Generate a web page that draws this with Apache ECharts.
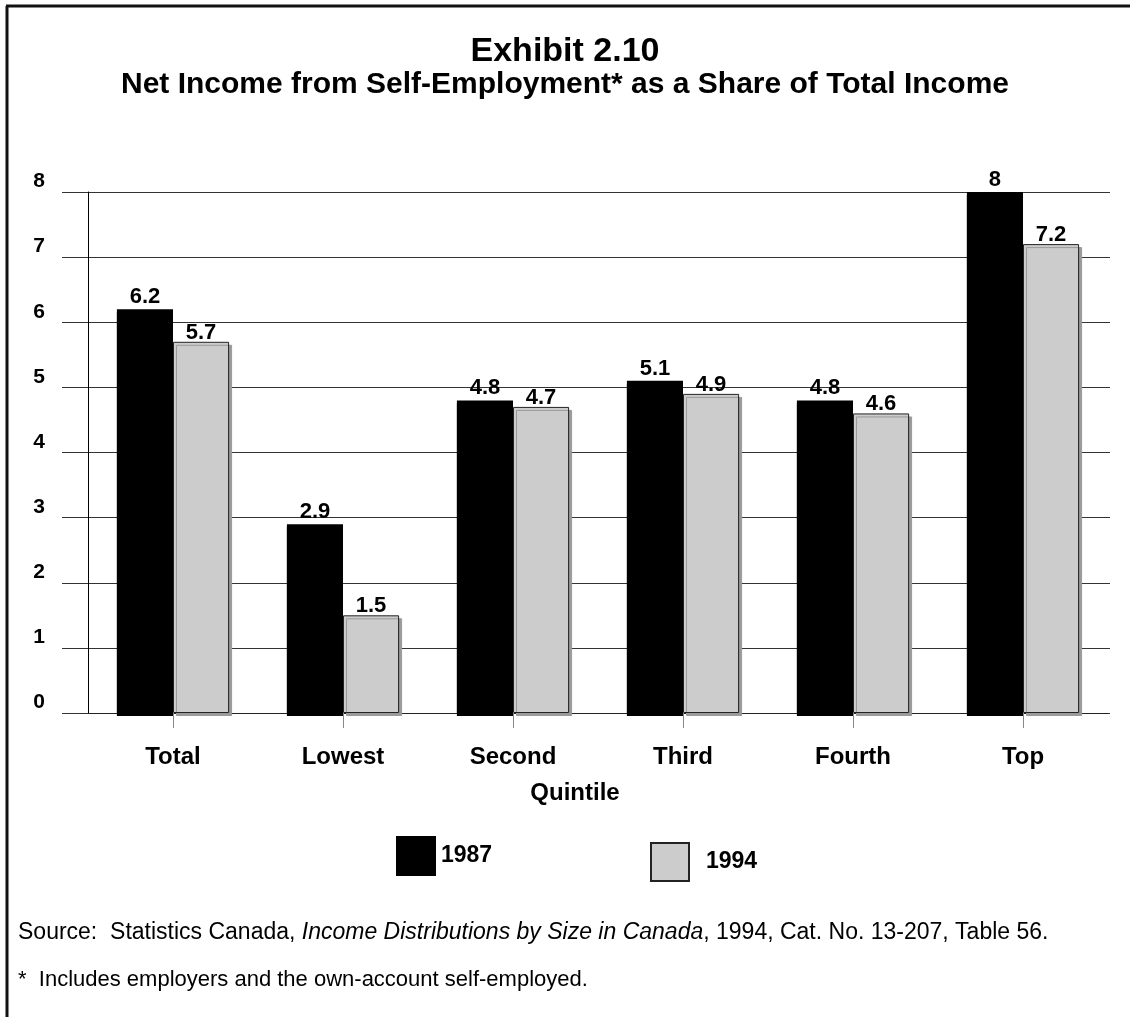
<!DOCTYPE html>
<html lang="en">
<head>
    <meta charset="UTF-8">
    <title>Exhibit 2.10</title>
    <script src="https://cdn.jsdelivr.net/npm/echarts@6/dist/echarts.min.js"></script>
    <style>
        html, body { margin: 0; padding: 0; background: #fff; }
    </style>
</head>
<body>
<div id="myChart" style="width: 1130px;height: 1017px;"></div>
<script>
    var categories = ['Total', 'Lowest', 'Second', 'Third', 'Fourth', 'Top'];
    var seriesNames = ['1987', '1994'];
    var values1987 = [6.2, 2.9, 4.8, 5.1, 4.8, 8];
    var values1994 = [5.7, 1.5, 4.7, 4.9, 4.6, 7.2];
    var yMin = 0, yMax = 8, yStep = 1;

    var font = 'Liberation Sans, Arial, sans-serif';
    var myChart = echarts.init(document.getElementById('myChart'));

    var option = {
        backgroundColor: '#fff',
        textStyle: { fontFamily: font },
        title: [{
            text: 'Exhibit 2.10',
            left: 'center',
            top: 30,
            textStyle: { fontSize: 34, fontWeight: 'bold', color: '#000' }
        }, {
            text: 'Net Income from Self-Employment* as a Share of Total Income',
            left: 'center',
            top: 65,
            textStyle: { fontSize: 30, fontWeight: 'bold', color: '#000' }
        }],
        legend: [{
            data: ['1987'],
            icon: 'rect',
            left: 391,
            top: 831,
            itemWidth: 40,
            itemHeight: 40,
            textStyle: { fontSize: 23, fontWeight: 'bold', color: '#000', padding: [0, 0, 14, 0] }
        }, {
            data: ['1994'],
            icon: 'rect',
            left: 645,
            top: 837,
            itemWidth: 38,
            itemHeight: 38,
            textStyle: { fontSize: 23, fontWeight: 'bold', color: '#000', padding: [0, 0, 0, 12] }
        }],
        grid: [
            { left: 88, right: 22, top: 192, bottom: 304 },
            { left: 62, right: 20, top: 192, bottom: 304 }
        ],
        xAxis: [{
            gridIndex: 0,
            type: 'category',
            data: categories,
            axisLine: { show: true, lineStyle: { color: '#222', width: 1 } },
            axisTick: { show: true, alignWithLabel: true, length: 15, lineStyle: { color: '#888' } },
            axisLabel: { margin: 32, fontSize: 24, fontWeight: 'bold', color: '#000' },
            name: 'Quintile',
            nameLocation: 'middle',
            nameGap: 68,
            nameTextStyle: { fontSize: 24, fontWeight: 'bold', color: '#000', padding: [0, 46, 0, 0] }
        }, {
            gridIndex: 1,
            type: 'value',
            show: false
        }],
        yAxis: [{
            gridIndex: 0,
            type: 'value',
            min: yMin,
            max: yMax,
            interval: yStep,
            axisLine: { show: true, lineStyle: { color: '#000', width: 1 } },
            axisTick: { show: false },
            axisLabel: { show: false },
            splitLine: { show: false }
        }, {
            gridIndex: 1,
            type: 'value',
            min: yMin,
            max: yMax,
            interval: yStep,
            axisLine: { show: false },
            axisTick: { show: false },
            axisLabel: {
                margin: 17,
                fontSize: 21,
                fontWeight: 'bold',
                color: '#000',
                verticalAlign: 'bottom'
            },
            splitLine: { show: true, lineStyle: { color: '#333', width: 1 } }
        }],
        series: [{
            name: seriesNames[0],
            type: 'bar',
            xAxisIndex: 0,
            yAxisIndex: 0,
            data: values1987,
            barGap: '0%',
            barCategoryGap: '34%',
            itemStyle: {
                color: '#000',
                shadowColor: '#000',
                shadowOffsetX: 0,
                shadowOffsetY: 3,
                shadowBlur: 0
            },
            label: {
                show: true,
                position: 'top',
                distance: 1,
                fontSize: 22,
                fontWeight: 'bold',
                color: '#000'
            },
            z: 3
        }, {
            name: seriesNames[1],
            type: 'bar',
            xAxisIndex: 0,
            yAxisIndex: 0,
            data: values1994,
            barGap: '0%',
            barCategoryGap: '34%',
            itemStyle: {
                color: '#cccccc',
                borderColor: '#222',
                borderWidth: 1,
                shadowColor: '#9a9a9a',
                shadowOffsetX: 3,
                shadowOffsetY: 3,
                shadowBlur: 0
            },
            label: {
                show: true,
                position: 'top',
                distance: -2,
                fontSize: 22,
                fontWeight: 'bold',
                color: '#000'
            },
            z: 2
        }],
        graphic: [{
            type: 'line',
            shape: { x1: 7, y1: 6, x2: 7, y2: 1017 },
            style: { stroke: '#111', lineWidth: 3 }
        }, {
            type: 'line',
            shape: { x1: 6, y1: 6, x2: 1130, y2: 6 },
            style: { stroke: '#111', lineWidth: 3 }
        }, {
            type: 'text',
            left: 18,
            top: 921,
            style: {
                text: '{n|Source:  Statistics Canada, }{i|Income Distributions by Size in Canada}{n|, 1994, Cat. No. 13-207, Table 56.}',
                rich: {
                    n: { fontSize: 23, fontFamily: font, fill: '#000' },
                    i: { fontSize: 23, fontFamily: font, fontStyle: 'italic', fill: '#000' }
                }
            }
        }, {
            type: 'text',
            left: 18,
            top: 969,
            style: {
                text: '*  Includes employers and the own-account self-employed.',
                fontSize: 22,
                fontFamily: font,
                fill: '#000'
            }
        }]
    };

    myChart.setOption(option);
</script>
</body>
</html>
